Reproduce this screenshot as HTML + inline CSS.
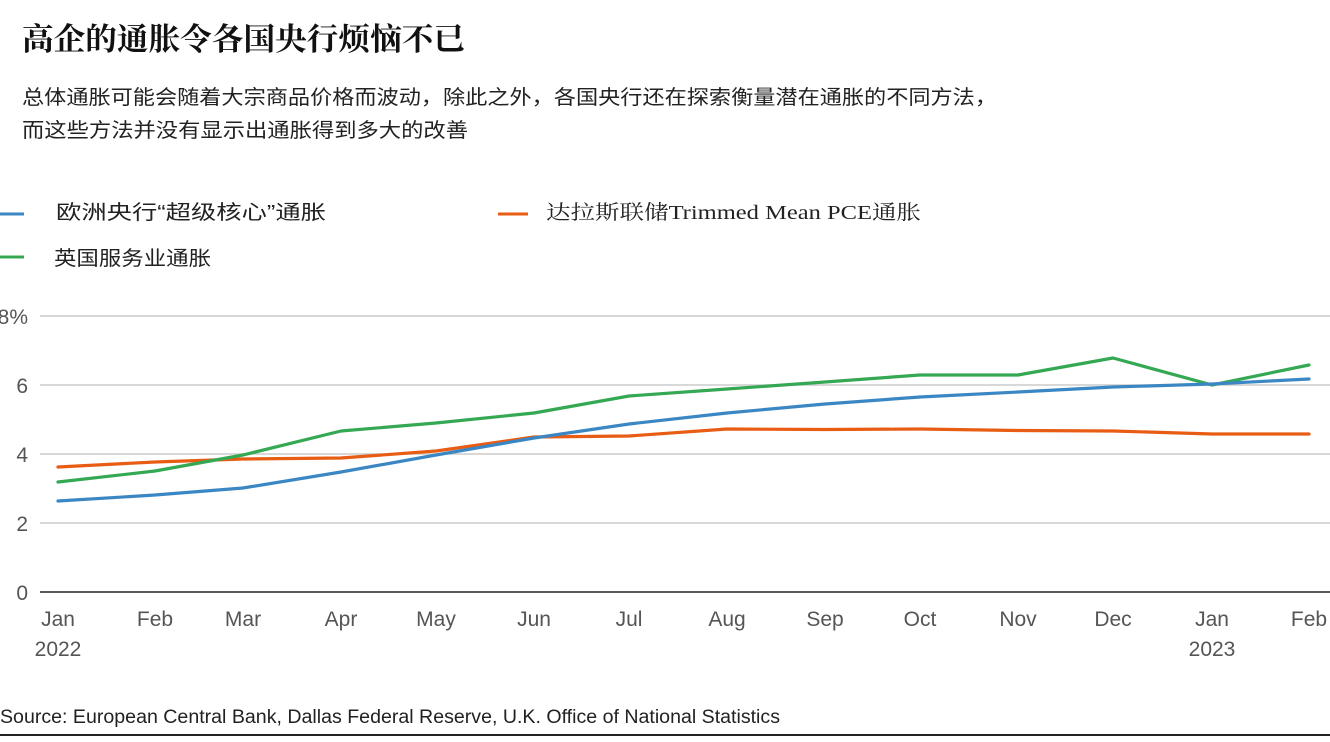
<!DOCTYPE html>
<html><head><meta charset="utf-8"><style>
body{margin:0;width:1330px;height:737px;background:#fff;overflow:hidden;font-family:"Liberation Sans","Noto Sans CJK SC",sans-serif;}
</style></head><body>
<svg width="1330" height="737" xmlns="http://www.w3.org/2000/svg" font-family="Liberation Sans, Noto Sans CJK SC, sans-serif">
<text x="22" y="50" font-size="31" font-weight="bold" fill="#111" font-family="Noto Serif CJK SC, serif" textLength="443" lengthAdjust="spacingAndGlyphs">高企的通胀令各国央行烦恼不已</text>
<text x="22" y="104" font-size="20" fill="#222" textLength="975" lengthAdjust="spacingAndGlyphs">总体通胀可能会随着大宗商品价格而波动，除此之外，各国央行还在探索衡量潜在通胀的不同方法，</text>
<text x="22" y="137" font-size="20" fill="#222" textLength="446" lengthAdjust="spacingAndGlyphs">而这些方法并没有显示出通胀得到多大的改善</text>
<line x1="0" y1="214" x2="24" y2="214" stroke="#3a87c4" stroke-width="3"/>
<text x="56" y="219" font-size="20" fill="#222" textLength="270" lengthAdjust="spacingAndGlyphs">欧洲央行“超级核心”通胀</text>
<line x1="498" y1="214" x2="528" y2="214" stroke="#e85c14" stroke-width="3"/>
<text x="546" y="219" font-size="20" fill="#222" font-family="Liberation Serif, Noto Serif CJK SC, serif" textLength="375" lengthAdjust="spacingAndGlyphs">达拉斯联储Trimmed Mean PCE通胀</text>
<line x1="0" y1="257" x2="24" y2="257" stroke="#34a853" stroke-width="3"/>
<text x="54" y="265" font-size="20" fill="#222" textLength="157" lengthAdjust="spacingAndGlyphs">英国服务业通胀</text>
<g stroke="#ccc" stroke-width="1.5">
<line x1="40" y1="316" x2="1330" y2="316"/><line x1="40" y1="385" x2="1330" y2="385"/><line x1="40" y1="454" x2="1330" y2="454"/><line x1="40" y1="523" x2="1330" y2="523"/></g>
<line x1="40" y1="592" x2="1330" y2="592" stroke="#222" stroke-width="1.5"/>
<g font-size="21" fill="#555" text-anchor="end">
<text x="28" y="324">8%</text><text x="28" y="393">6</text><text x="28" y="462">4</text><text x="28" y="531">2</text><text x="28" y="600">0</text></g>
<g font-size="21" fill="#555" text-anchor="middle">
<text x="58" y="626">Jan</text><text x="58" y="656">2022</text><text x="155" y="626">Feb</text><text x="243" y="626">Mar</text><text x="341" y="626">Apr</text><text x="436" y="626">May</text><text x="534" y="626">Jun</text><text x="629" y="626">Jul</text><text x="727" y="626">Aug</text><text x="825" y="626">Sep</text><text x="920" y="626">Oct</text><text x="1018" y="626">Nov</text><text x="1113" y="626">Dec</text><text x="1212" y="626">Jan</text><text x="1212" y="656">2023</text><text x="1309" y="626">Feb</text></g>
<g fill="none" stroke-width="3.2" stroke-linejoin="round" stroke-linecap="round">
<polyline stroke="#e85c14" points="58,467 155,462 243,459 341,458 436,451 534,437 629,436 727,429 825,429.5 920,429 1018,430.5 1113,431 1212,434 1309,434"/>
<polyline stroke="#34a853" points="58,482 155,471 243,455 341,431 436,423 534,413 629,396 727,389 825,382 920,375 1018,375 1113,358 1212,385 1309,365"/>
<polyline stroke="#3a87c4" points="58,501 155,495 243,488 341,472 436,455 534,438 629,424 727,413 825,404 920,397 1018,392 1113,387 1212,384 1309,379"/>
</g>
<text x="0" y="723" font-size="19" fill="#222" textLength="780" lengthAdjust="spacingAndGlyphs">Source: European Central Bank, Dallas Federal Reserve, U.K. Office of National Statistics</text>
<line x1="0" y1="735" x2="1330" y2="735" stroke="#222" stroke-width="2"/>
</svg>
</body></html>
